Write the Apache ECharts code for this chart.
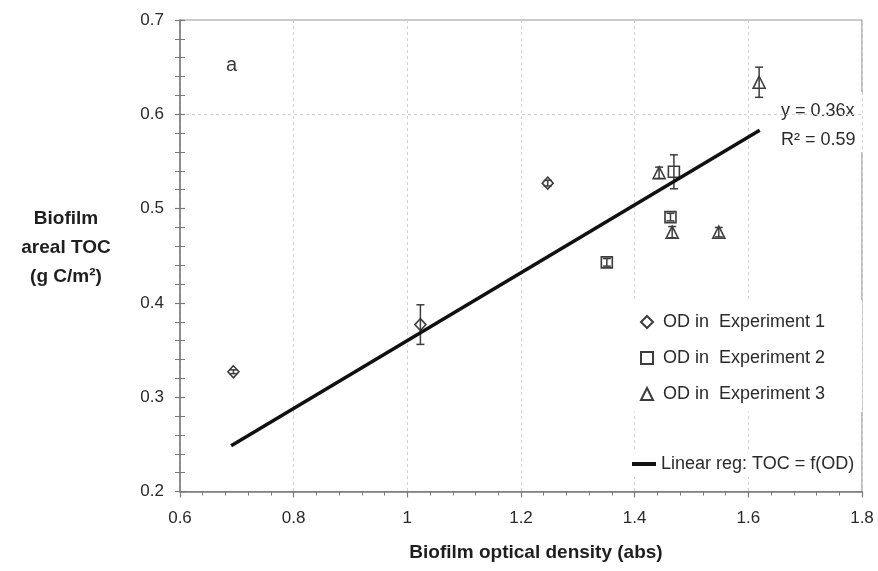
<!DOCTYPE html>
<html>
<head>
<meta charset="utf-8">
<title>Biofilm areal TOC vs optical density</title>
<script src="https://cdn.jsdelivr.net/npm/echarts@6/dist/echarts.min.js"></script>
<style>
  html, body { margin: 0; padding: 0; background: #fff; }
  #chart { width: 878px; height: 571px; }
</style>
</head>
<body>
<div id="chart"></div>
<script>
// Optical density (abs) vs areal TOC (g C/m2), with standard deviation per point
const exp1Points = [[0.694, 0.327], [1.023, 0.377], [1.247, 0.527]];
const exp1Err = [0.002, 0.021, 0.003];
const exp2Points = [[1.351, 0.443], [1.463, 0.491], [1.469, 0.539]];
const exp2Err = [0.004, 0.004, 0.018];
const exp3Points = [[1.443, 0.538], [1.466, 0.475], [1.548, 0.475], [1.619, 0.634]];
const exp3Err = [0.006, 0.006, 0.005, 0.016];

// Linear regression through the origin: TOC = 0.36 * OD
const regSlope = 0.36;
const regRange = [0.69, 1.62];
const regR2 = 0.59;

const xTicks = [0.6, 0.8, 1, 1.2, 1.4, 1.6, 1.8];
const yTicks = [0.2, 0.3, 0.4, 0.5, 0.6, 0.7];
const yGridLines = [0.6];

const seriesNames = ['OD in  Experiment 1', 'OD in  Experiment 2', 'OD in  Experiment 3'];
const regName = 'Linear reg: TOC = f(OD)';

const FONT = '"Liberation Sans", Arial, Helvetica, sans-serif';
const INK = '#3c3c3c';
const TEXT = '#2a2a2a';

function errRows(points, errs) {
  return points.map((p, i) => [p[0], p[1] - errs[i], p[1] + errs[i]]);
}

function errorBarSeries(points, errs) {
  return {
    type: 'custom',
    z: 4,
    silent: true,
    renderItem: function (params, api) {
      const x = api.value(0);
      const top = api.coord([x, api.value(2)]);
      const bot = api.coord([x, api.value(1)]);
      const cap = 4;
      const style = { stroke: INK, lineWidth: 1.5, fill: null };
      return {
        type: 'group',
        children: [
          { type: 'line', shape: { x1: top[0], y1: top[1], x2: bot[0], y2: bot[1] }, style: style },
          { type: 'line', shape: { x1: top[0] - cap, y1: top[1], x2: top[0] + cap, y2: top[1] }, style: style },
          { type: 'line', shape: { x1: bot[0] - cap, y1: bot[1], x2: bot[0] + cap, y2: bot[1] }, style: style }
        ]
      };
    },
    encode: { x: 0, y: [1, 2] },
    data: errRows(points, errs)
  };
}

function markerSeries(name, points, symbol, size) {
  return {
    name: name,
    type: 'scatter',
    symbol: symbol,
    symbolSize: size,
    z: 3,
    itemStyle: { color: '#fff', borderColor: INK, borderWidth: 1.6, opacity: 1 },
    data: points
  };
}

const chart = echarts.init(document.getElementById('chart'), null, { renderer: 'canvas' });

const yGridColors = yTicks.map(v => yGridLines.indexOf(v) >= 0 ? '#cfcfcf' : 'rgba(0,0,0,0)');

const axisLineStyle = { color: '#7a7a7a', width: 1.5 };

chart.setOption({
  backgroundColor: '#fff',
  animation: false,
  textStyle: { fontFamily: FONT },
  grid: {
    left: 180, top: 20, right: 16, bottom: 79.5,
    show: true, borderColor: '#959595', borderWidth: 1.2, backgroundColor: 'transparent'
  },
  xAxis: {
    type: 'value',
    min: xTicks[0], max: xTicks[xTicks.length - 1], interval: 0.2,
    axisLine: { show: true, onZero: false, lineStyle: axisLineStyle },
    axisTick: { show: true, length: 6, lineStyle: { color: '#7a7a7a', width: 1.2 } },
    minorTick: { show: true, splitNumber: 5, length: 4, lineStyle: { color: '#7a7a7a', width: 1 } },
    axisLabel: {
      margin: 18, fontSize: 17, color: TEXT, fontFamily: FONT,
      formatter: v => String(+v.toFixed(1))
    },
    splitLine: { show: true, lineStyle: { color: '#d2d2d2', type: [3, 3], width: 1 } }
  },
  yAxis: [
    {
      type: 'value',
      min: yTicks[0], max: yTicks[yTicks.length - 1], interval: 0.1,
      axisLine: { show: true, onZero: false, lineStyle: axisLineStyle },
      axisTick: { show: true, length: 5, lineStyle: { color: '#7a7a7a', width: 1.2 } },
      minorTick: { show: true, splitNumber: 5, length: 5, lineStyle: { color: '#7a7a7a', width: 1 } },
      axisLabel: {
        margin: 16, fontSize: 17, color: TEXT, fontFamily: FONT,
        formatter: v => v.toFixed(1)
      },
      splitLine: { show: true, lineStyle: { color: yGridColors, type: [3, 3], width: 1 } }
    },
    {
      type: 'value',
      position: 'left',
      min: yTicks[0], max: yTicks[yTicks.length - 1], interval: 0.1,
      axisLine: { show: false },
      axisTick: { show: true, inside: true, length: 5, lineStyle: { color: '#7a7a7a', width: 1.2 } },
      minorTick: { show: true, splitNumber: 5, length: 5, lineStyle: { color: '#7a7a7a', width: 1 } },
      axisLabel: { show: false },
      splitLine: { show: false }
    }
  ],
  legend: [
    {
      orient: 'vertical',
      left: 632, top: 300,
      padding: [13, 37, 9, 8],
      backgroundColor: '#fff',
      itemWidth: 12, itemHeight: 12, itemGap: 18,
      selectedMode: false,
      textStyle: { fontSize: 18, color: TEXT, lineHeight: 18, fontFamily: FONT, padding: [0, 0, 0, 5] },
      data: [
        { name: seriesNames[0], icon: 'diamond' },
        { name: seriesNames[1], icon: 'rect' },
        { name: seriesNames[2], icon: 'triangle' }
      ]
    },
    {
      orient: 'vertical',
      left: 628, top: 451,
      padding: [4, 4, 4, 4],
      backgroundColor: '#fff',
      itemWidth: 24, itemHeight: 4,
      selectedMode: false,
      textStyle: { fontSize: 18, color: TEXT, lineHeight: 18, fontFamily: FONT },
      data: [{ name: regName, icon: 'rect' }]
    }
  ],
  graphic: [
    {
      type: 'text', left: 226, top: 55, z: 10,
      style: { text: 'a', font: '20px ' + FONT, fill: '#3a3a3a' }
    },
    {
      type: 'group', left: 777, top: 92, z: 10,
      children: [
        { type: 'rect', shape: { x: 0, y: 0, width: 91, height: 60 }, style: { fill: '#fff' } },
        {
          type: 'text', x: 4, y: 5,
          style: {
            text: 'y = ' + regSlope + 'x\nR² = ' + regR2,
            font: '18px ' + FONT, fill: TEXT, lineHeight: 29
          }
        }
      ]
    },
    {
      type: 'text', z: 10,
      style: {
        text: 'Biofilm\nareal TOC\n(g C/m²)',
        x: 66, y: 248, align: 'center', verticalAlign: 'middle',
        font: 'bold 19px ' + FONT, fill: '#1e1e1e', lineHeight: 29
      }
    },
    {
      type: 'text', z: 10,
      style: {
        text: 'Biofilm optical density (abs)',
        x: 536, y: 553, align: 'center', verticalAlign: 'middle',
        font: 'bold 19px ' + FONT, fill: '#1e1e1e'
      }
    }
  ],
  series: [
    markerSeries(seriesNames[0], exp1Points, 'diamond', [11, 12]),
    markerSeries(seriesNames[1], exp2Points, 'rect', 11),
    markerSeries(seriesNames[2], exp3Points, 'triangle', 12),
    errorBarSeries(exp1Points, exp1Err),
    errorBarSeries(exp2Points, exp2Err),
    errorBarSeries(exp3Points, exp3Err),
    {
      name: regName,
      type: 'line',
      symbol: 'none',
      z: 5,
      color: '#111',
      lineStyle: { color: '#111', width: 3.5 },
      data: regRange.map(x => [x, +(regSlope * x).toFixed(4)])
    }
  ]
});
</script>
</body>
</html>
